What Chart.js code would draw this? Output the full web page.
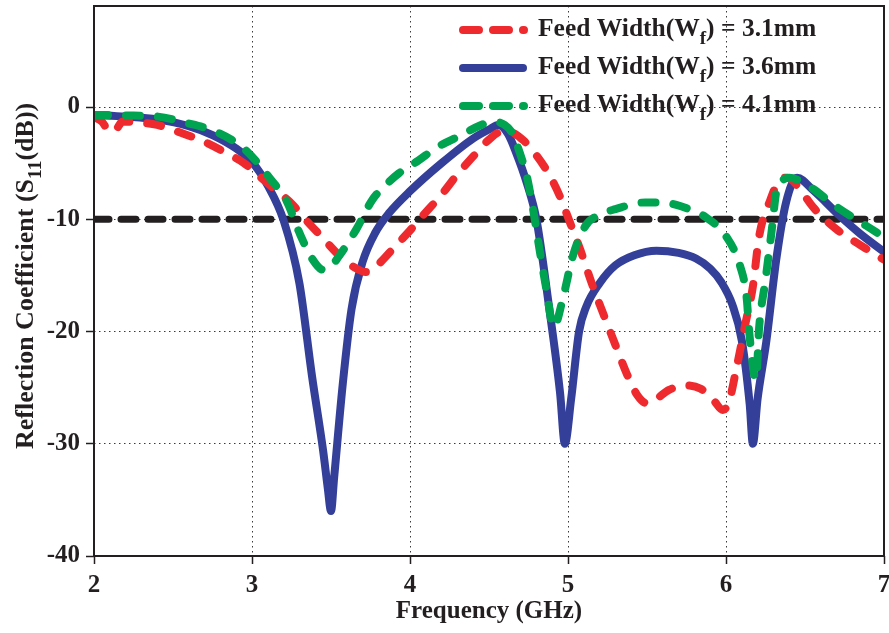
<!DOCTYPE html>
<html>
<head>
<meta charset="utf-8">
<script src="https://cdn.jsdelivr.net/npm/chart.js@4/dist/chart.umd.min.js"></script>
<style>
  html, body { margin: 0; padding: 0; background: #fff; }
  #wrap { width: 889px; height: 633px; }
</style>
</head>
<body>
<div id="wrap"><canvas id="s11-chart" width="889" height="633"></canvas></div>
<script>
// Reflection coefficient S11 (dB) vs frequency (GHz)
const feed31Freq = [2.0, 2.05, 2.1, 2.14, 2.18, 2.3, 2.4, 2.55, 2.7, 2.85, 2.95, 3.05, 3.15, 3.25, 3.35, 3.45, 3.55, 3.65, 3.72, 3.8, 3.9, 4.0, 4.06, 4.2, 4.3, 4.4, 4.5, 4.58, 4.65, 4.72, 4.8, 4.88, 4.95, 5.01, 5.08, 5.15, 5.22, 5.3, 5.37, 5.44, 5.5, 5.56, 5.64, 5.75, 5.84, 5.92, 5.98, 6.02, 6.06, 6.12, 6.17, 6.21, 6.28, 6.34, 6.39, 6.45, 6.55, 6.7, 6.85, 7.0];
const feed31S11 = [-0.9, -1.3, -2.2, -2.0, -1.3, -1.4, -1.6, -2.3, -3.1, -4.2, -5.0, -6.2, -7.4, -8.6, -10.2, -11.7, -13.2, -14.3, -14.7, -14.0, -12.5, -11.0, -10.0, -7.8, -6.0, -4.4, -2.9, -2.2, -2.3, -3.0, -4.3, -6.0, -8.0, -10.2, -12.8, -15.7, -18.3, -21.2, -23.7, -25.7, -26.4, -26.0, -25.2, -24.8, -25.1, -26.1, -27.0, -26.2, -23.7, -19.5, -16.0, -11.5, -8.3, -6.5, -6.3, -7.0, -8.9, -10.9, -12.3, -13.6];

const feed36Freq = [2.0, 2.2, 2.4, 2.6, 2.75, 2.9, 3.0, 3.1, 3.2, 3.3, 3.38, 3.45, 3.48, 3.5, 3.52, 3.575, 3.63, 3.7, 3.78, 3.87, 4.0, 4.2, 4.4, 4.5, 4.56, 4.62, 4.67, 4.74, 4.8, 4.88, 4.95, 4.98, 5.02, 5.07, 5.115, 5.2, 5.3, 5.42, 5.56, 5.7, 5.81, 5.9, 5.97, 6.04, 6.1, 6.15, 6.17, 6.2, 6.254, 6.318, 6.38, 6.45, 6.55, 6.72, 6.85, 7.0];
const feed36S11 = [-0.7, -0.85, -1.1, -1.7, -2.5, -3.7, -4.9, -7.0, -10.1, -15.7, -24.0, -30.6, -34.0, -36.0, -33.0, -24.6, -18.0, -13.8, -11.2, -9.4, -7.5, -5.0, -2.8, -2.0, -1.6, -2.4, -4.0, -6.8, -10.0, -17.8, -25.5, -30.0, -26.0, -20.0, -17.8, -15.7, -14.1, -13.2, -12.8, -13.0, -13.5, -14.4, -15.6, -17.6, -20.8, -26.5, -30.0, -26.0, -21.0, -13.6, -8.5, -6.3, -7.4, -9.7, -11.3, -12.9];

const feed41Freq = [2.0, 2.2, 2.4, 2.58, 2.77, 2.94, 3.05, 3.11, 3.22, 3.3, 3.38, 3.45, 3.5, 3.55, 3.66, 3.76, 3.85, 3.93, 4.05, 4.17, 4.31, 4.45, 4.52, 4.6, 4.65, 4.7, 4.74, 4.78, 4.82, 4.86, 4.91, 4.97, 5.03, 5.11, 5.2, 5.3, 5.49, 5.6, 5.68, 5.8, 5.87, 6.0, 6.09, 6.13, 6.15, 6.19, 6.21, 6.25, 6.29, 6.32, 6.36, 6.4, 6.53, 6.7, 6.89, 7.0];
const feed41S11 = [-0.7, -0.75, -0.85, -1.4, -2.2, -3.6, -5.2, -6.3, -8.4, -11.2, -13.5, -14.5, -14.2, -13.3, -10.9, -8.3, -6.9, -5.9, -4.8, -3.6, -2.6, -1.6, -1.3, -1.6, -2.4, -4.3, -6.2, -9.2, -12.7, -16.0, -19.6, -16.9, -13.3, -10.6, -9.6, -9.1, -8.5, -8.5, -8.7, -9.3, -9.8, -11.5, -14.2, -16.9, -20.5, -24.3, -19.6, -15.4, -10.9, -7.4, -6.5, -6.3, -7.1, -8.9, -10.6, -11.6];

const refFreq = [2, 7];
const refS11 = [-10, -10];

const xTicks = [2, 3, 4, 5, 6, 7];
const yTicks = [-40, -30, -20, -10, 0];

const legendLabels = ['3.1mm', '3.6mm', '4.1mm'];

const INK = '#231f20';
const SERIF = '"Liberation Serif", "Times New Roman", serif';

function toPoints(xs, ys) {
    return xs.map((x, i) => ({ x: x, y: ys[i] }));
}

const seriesStyle = [
    { color: '#ee2a2f', dash: [14, 18], width: 8 },
    { color: '#333f98', dash: [], width: 8 },
    { color: '#00a34f', dash: [14, 18], width: 8 }
];

// draws text with a lowered, smaller part (e.g. W_f, S_11)
function drawRich(ctx, parts, x, y, size) {
    let cx = x;
    parts.forEach((p) => {
        const s = p.sub ? size * 0.75 : size;
        ctx.font = `bold ${s}px ${SERIF}`;
        ctx.fillText(p.t, cx, y + (p.sub ? size * 0.3 : 0));
        cx += ctx.measureText(p.t).width;
    });
    return cx - x;
}

const framePlugin = {
    id: 'frame',
    afterDraw(chart) {
        const { ctx, chartArea: a } = chart;
        ctx.save();
        ctx.strokeStyle = INK;
        ctx.lineWidth = 2;
        ctx.strokeRect(a.left, a.top, a.right - a.left, a.bottom - a.top);

        // legend
        const rows = [30, 68, 106];
        rows.forEach((y, i) => {
            const st = seriesStyle[i];
            ctx.strokeStyle = st.color;
            ctx.lineWidth = st.width;
            ctx.lineCap = 'round';
            ctx.setLineDash(st.dash.length ? [16, 14] : []);
            ctx.beginPath();
            ctx.moveTo(463, y);
            ctx.lineTo(st.dash.length ? 524 : 523, y);
            ctx.stroke();
            ctx.setLineDash([]);
            ctx.fillStyle = INK;
            ctx.textBaseline = 'alphabetic';
            ctx.textAlign = 'left';
            drawRich(ctx, [
                { t: 'Feed Width(W' }, { t: 'f', sub: true }, { t: ') = ' + legendLabels[i] }
            ], 538, y + 6, 25.5);
        });

        // y axis title
        const parts = [{ t: 'Reflection Coefficient (S' }, { t: '11', sub: true }, { t: '(dB))' }];
        ctx.translate(33, 449);
        ctx.rotate(-Math.PI / 2);
        ctx.fillStyle = INK;
        drawRich(ctx, parts, 0, 0, 26);
        ctx.restore();
    }
};

const datasets = [
    { label: 'Feed Width(Wf) = 4.1mm', data: toPoints(feed41Freq, feed41S11), st: seriesStyle[2] },
    { label: 'Feed Width(Wf) = 3.1mm', data: toPoints(feed31Freq, feed31S11), st: seriesStyle[0] },
    { label: 'Feed Width(Wf) = 3.6mm', data: toPoints(feed36Freq, feed36S11), st: seriesStyle[1] },
    { label: '-10 dB', data: toPoints(refFreq, refS11), st: { color: INK, dash: [15, 12], width: 7 } }
].map((d) => ({
    label: d.label,
    data: d.data,
    borderColor: d.st.color,
    borderWidth: d.st.width,
    borderDash: d.st.dash,
    borderCapStyle: 'round',
    borderJoinStyle: 'round',
    cubicInterpolationMode: 'monotone',
    pointRadius: 0,
    fill: false
}));

const ctx = document.getElementById('s11-chart').getContext('2d');
new Chart(ctx, {
    type: 'line',
    data: { datasets: datasets },
    options: {
        responsive: false,
        animation: false,
        layout: { padding: { top: 6, right: 5, left: 0, bottom: 0 } },
        plugins: { legend: { display: false }, tooltip: { enabled: false } },
        scales: {
            x: {
                type: 'linear',
                min: 2,
                max: 7,
                afterFit: (scale) => {
                    scale.height = 77;
                    scale.paddingLeft = 0;
                    scale.paddingRight = 0;
                },
                afterBuildTicks: (scale) => { scale.ticks = xTicks.map((v) => ({ value: v })); },
                ticks: { color: INK, font: { family: SERIF, size: 25, weight: 'bold' }, padding: 7 },
                grid: { color: '#3a3a3a', lineWidth: 1, tickLength: 8, tickColor: INK, tickWidth: 1.5, tickBorderDash: [] },
                border: { display: false, dash: [1.5, 3.5] },
                title: { display: true, text: 'Frequency (GHz)', color: INK, font: { family: SERIF, size: 25, weight: 'bold' }, padding: { top: 0, bottom: 6 } }
            },
            y: {
                type: 'linear',
                min: -40,
                max: 9,
                afterFit: (scale) => {
                    scale.width = 94;
                    scale.paddingTop = 0;
                    scale.paddingBottom = 0;
                },
                afterBuildTicks: (scale) => { scale.ticks = yTicks.map((v) => ({ value: v })); },
                ticks: { color: INK, font: { family: SERIF, size: 25, weight: 'bold' }, padding: 6 },
                grid: { color: '#3a3a3a', lineWidth: 1, tickLength: 8, tickColor: INK, tickWidth: 1.5, tickBorderDash: [] },
                border: { display: false, dash: [1.5, 3.5] }
            }
        }
    },
    plugins: [framePlugin]
});
</script>
</body>
</html>
